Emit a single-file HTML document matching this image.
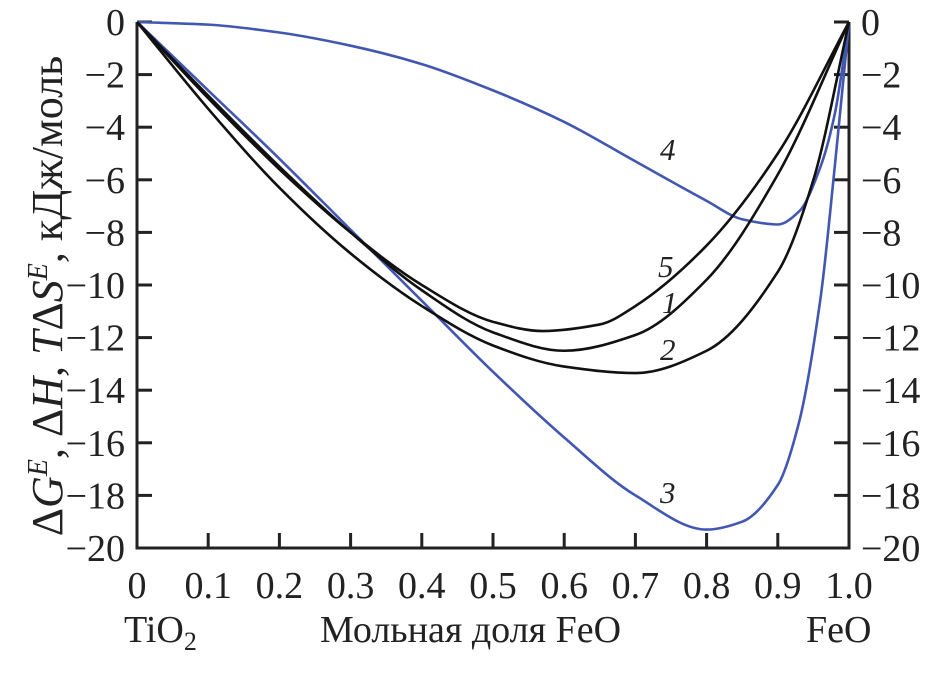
<!DOCTYPE html>
<html><head><meta charset="utf-8"><style>
body{margin:0;background:#fff}
svg{display:block}
text{font-family:"Liberation Serif",serif}
</style></head><body>
<svg id="c" width="930" height="673"></svg>
<script>
const xTicks=[0,0.1,0.2,0.3,0.4,0.5,0.6,0.7,0.8,0.9,1.0];
const xTickLabels=["0","0.1","0.2","0.3","0.4","0.5","0.6","0.7","0.8","0.9","1.0"];
const yTicks=[0,-2,-4,-6,-8,-10,-12,-14,-16,-18,-20];
const yTickLabels=["0","\u22122","\u22124","\u22126","\u22128","\u221210","\u221212","\u221214","\u221216","\u221218","\u221220"];
const xs4=[0,0.1,0.2,0.3,0.4,0.5,0.6,0.7,0.8,0.85,0.9,0.93,0.96,0.98,1.0];
const ys4=[0,-0.1,-0.4,-0.9,-1.6,-2.6,-3.8,-5.3,-6.8,-7.5,-7.7,-7.2,-5.5,-3.5,0];
const xs3=[0,0.1,0.2,0.3,0.4,0.5,0.6,0.7,0.8,0.85,0.9,0.93,0.96,0.98,1.0];
const ys3=[0,-2.6,-5.2,-7.9,-10.6,-13.3,-15.8,-18.0,-19.3,-19.0,-17.6,-15.2,-10.5,-5.5,0];
const xs5=[0,0.1,0.2,0.3,0.4,0.5,0.57,0.65,0.7,0.8,0.9,1.0];
const ys5=[0,-2.9,-5.6,-8.0,-10.0,-11.4,-11.75,-11.5,-10.8,-8.5,-5.0,0];
const xs1=[0,0.1,0.2,0.3,0.4,0.5,0.6,0.7,0.8,0.9,1.0];
const ys1=[0,-2.8,-5.5,-8.0,-10.2,-11.8,-12.5,-11.9,-9.8,-5.8,0];
const xs2=[0,0.1,0.2,0.3,0.4,0.5,0.6,0.7,0.8,0.9,0.95,1.0];
const ys2=[0,-3.3,-6.3,-8.8,-10.8,-12.3,-13.1,-13.35,-12.5,-9.5,-6,0];
const NS="http://www.w3.org/2000/svg";
const svg=document.getElementById('c');
const X=v=>137+v*712, Y=v=>22-v*26.3;
function el(t,a,p){const e=document.createElementNS(NS,t);for(const k in a)e.setAttribute(k,a[k]);(p||svg).appendChild(e);return e;}
let f=el('path',{d:`M${X(0)},${Y(0)}V${Y(-20)}H${X(1)}V${Y(0)}`,fill:'none',stroke:'#222','stroke-width':3});


xTicks.forEach((v,i)=>{
 const t=el('line',{x1:X(v),x2:X(v),y1:Y(-20),y2:Y(-20)-15,stroke:'#222','stroke-width':3});
 
 
 const l=el('text',{x:X(v),y:598,'font-size':38,'text-anchor':'middle',fill:'#222'});
 l.textContent=xTickLabels[i];
 
 
});
yTicks.forEach((v,i)=>{
 const t1=el('line',{x1:X(0),x2:X(0)+15,y1:Y(v),y2:Y(v),stroke:'#222','stroke-width':3});
 
 
 const t2=el('line',{x1:X(1),x2:X(1)-15,y1:Y(v),y2:Y(v),stroke:'#222','stroke-width':3});
 
 
 const l=el('text',{x:X(0)-12,y:Y(v)+13,'font-size':38,'text-anchor':'end',fill:'#222'});
 l.textContent=yTickLabels[i];
 
 
 const r=el('text',{x:X(1)+12,y:Y(v)+13,'font-size':38,'text-anchor':'start',fill:'#222'});
 r.textContent=yTickLabels[i];
 
 
});
function curve(xs,ys,col,name){
 const px=xs.map(X),py=ys.map(Y),n=px.length;
 const d0=[],m=[];
 for(let i=0;i<n-1;i++)d0.push((py[i+1]-py[i])/(px[i+1]-px[i]));
 for(let i=0;i<n;i++){
  if(i===0)m.push(d0[0]);else if(i===n-1)m.push(d0[n-2]);
  else m.push(d0[i-1]*d0[i]<=0?0:2/(1/d0[i-1]+1/d0[i]));
 }
 let d=`M${px[0]},${py[0]}`;
 for(let i=0;i<n-1;i++){
  const h=(px[i+1]-px[i])/3;
  d+=`C${px[i]+h},${py[i]+m[i]*h} ${px[i+1]-h},${py[i+1]-m[i+1]*h} ${px[i+1]},${py[i+1]}`;
 }
 const p=el('path',{d,fill:'none',stroke:col,'stroke-width':2.6});
 
 
}
curve(xs4,ys4,'#4257b2','curve-4');
curve(xs3,ys3,'#4257b2','curve-3');
curve(xs5,ys5,'#111','curve-5');
curve(xs1,ys1,'#111','curve-1');
curve(xs2,ys2,'#111','curve-2');
</script>
<svg width="930" height="673" style="position:absolute;left:0;top:0">
<g font-style="italic" font-size="31" fill="#222">
<text x="660" y="160">4</text>
<text x="658" y="277">5</text>
<text x="662" y="313">1</text>
<text x="660" y="360">2</text>
<text x="660" y="503">3</text>
</g>
<g font-size="38" fill="#222">
<text x="124" y="642">TiO<tspan font-size="26" dy="8">2</tspan></text>
<text x="320" y="642">Мольная доля FeO</text>
<text x="806" y="642">FeO</text>
<text transform="translate(62,296) rotate(-90)" text-anchor="middle" font-size="44">Δ<tspan font-style="italic">G</tspan><tspan font-style="italic" font-size="28" dy="-15">E</tspan><tspan dy="15">, Δ</tspan><tspan font-style="italic">H</tspan>, <tspan font-style="italic">T</tspan>Δ<tspan font-style="italic">S</tspan><tspan font-style="italic" font-size="28" dy="-15">E</tspan><tspan dy="15">, кДж/моль</tspan></text>
</g>
</svg>
</body></html>
